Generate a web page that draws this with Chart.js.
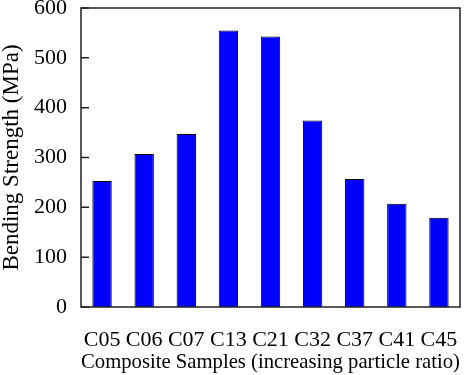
<!DOCTYPE html>
<html>
<head>
<meta charset="utf-8">
<script src="https://cdn.jsdelivr.net/npm/chart.js@4"></script>
<style>
  html, body { margin: 0; padding: 0; background: #fff; }
  #wrap { width: 472px; height: 375px; }
</style>
</head>
<body>
<div id="wrap"><canvas id="barChart" width="472" height="375"></canvas></div>
<script>
// data
const samples = ['C05', 'C06', 'C07', 'C13', 'C21', 'C32', 'C37', 'C41', 'C45'];
const strength = [253, 307, 347, 555, 543, 374, 257, 207, 179];
const yTicks = [0, 100, 200, 300, 400, 500, 600];

const serif = '"Liberation Serif", "Times New Roman", serif';

// box around the plot + inward ticks on the left axis
const framePlugin = {
  id: 'frame',
  afterDraw(chart) {
    const ctx = chart.ctx;
    const a = chart.chartArea;
    const y = chart.scales.y;
    ctx.save();
    ctx.strokeStyle = '#222';
    ctx.lineWidth = 1.5;
    ctx.strokeRect(a.left, a.top, a.right - a.left, a.bottom - a.top);
    ctx.beginPath();
    yTicks.forEach(v => {
      const py = y.getPixelForValue(v);
      ctx.moveTo(a.left, py);
      ctx.lineTo(a.left + 8, py);
    });
    ctx.stroke();
    ctx.restore();
  }
};

const ctx = document.getElementById('barChart').getContext('2d');
new Chart(ctx, {
  type: 'bar',
  data: {
    labels: samples,
    datasets: [{
      data: strength,
      backgroundColor: '#0000ff',
      borderColor: '#000',
      borderWidth: 1,
      barPercentage: 0.46,
      categoryPercentage: 1.0
    }]
  },
  options: {
    responsive: false,
    animation: false,
    layout: { padding: { left: 0, top: 8, right: 12, bottom: 0 } },
    plugins: {
      legend: { display: false },
      tooltip: { enabled: false }
    },
    scales: {
      x: {
        grid: { display: false, drawTicks: false },
        border: { display: false },
        ticks: { color: '#000', font: { family: serif, size: 22 }, padding: 20, maxRotation: 0 },
        title: {
          display: true,
          text: 'Composite Samples (increasing particle ratio)',
          color: '#000',
          font: { family: serif, size: 21.5 },
          padding: { top: 0, bottom: 0 }
        },
        afterFit(scale) {
          scale.height = 68;
          scale.paddingLeft = 0;
          scale.paddingRight = 0;
        }
      },
      y: {
        min: 0,
        max: 600,
        grid: { display: false, drawTicks: false },
        border: { display: false },
        ticks: {
          stepSize: 100,
          color: '#000',
          font: { family: serif, size: 22 },
          padding: 14
        },
        title: {
          display: true,
          text: 'Bending Strength (MPa)',
          color: '#000',
          font: { family: serif, size: 23 },
          padding: { top: -2, bottom: 0 }
        },
        afterFit(scale) {
          scale.width = 81;
          scale.paddingTop = 0;
          scale.paddingBottom = 0;
        }
      }
    }
  },
  plugins: [framePlugin]
});
</script>
</body>
</html>
